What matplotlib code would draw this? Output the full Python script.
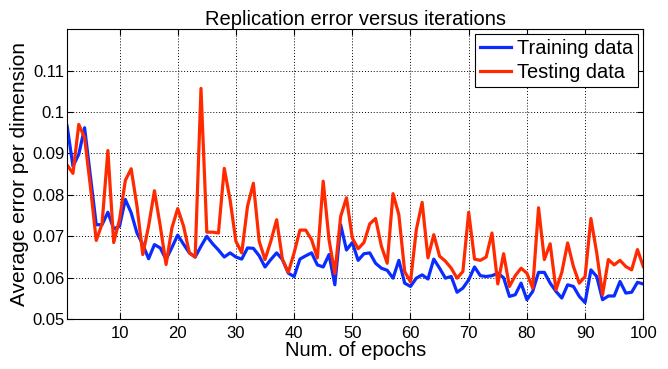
import matplotlib.pyplot as plt

plt.rcParams['font.family'] = ['Liberation Sans', 'DejaVu Sans']

# epochs 1..100
epochs = list(range(1, 101))

# average error per dimension, training set
train_err = [
    0.0966, 0.0869, 0.0898, 0.0962, 0.0845, 0.0728, 0.0728, 0.0758, 0.0718, 0.0724,
    0.0789, 0.0757, 0.0708, 0.0680, 0.0646, 0.0680, 0.0672, 0.0644, 0.0673, 0.0703,
    0.0681, 0.0660, 0.0650, 0.0676, 0.0700, 0.0682, 0.0667, 0.0650, 0.0660, 0.0650,
    0.0645, 0.0672, 0.0671, 0.0653, 0.0626, 0.0644, 0.0660, 0.0644, 0.0611, 0.0603,
    0.0645, 0.0653, 0.0660, 0.0631, 0.0626, 0.0656, 0.0583, 0.0728, 0.0667, 0.0685,
    0.0642, 0.0658, 0.0660, 0.0635, 0.0623, 0.0618, 0.0599, 0.0642, 0.0587, 0.0579,
    0.0599, 0.0607, 0.0597, 0.0645, 0.0623, 0.0599, 0.0603, 0.0565, 0.0575, 0.0595,
    0.0626, 0.0605, 0.0603, 0.0605, 0.0611, 0.0600, 0.0555, 0.0559, 0.0587, 0.0547,
    0.0567, 0.0613, 0.0613, 0.0587, 0.0567, 0.0551, 0.0583, 0.0579, 0.0555, 0.0540,
    0.0619, 0.0603, 0.0547, 0.0556, 0.0556, 0.0591, 0.0563, 0.0565, 0.0589, 0.0585,
]

# average error per dimension, testing set
test_err = [
    0.0872, 0.0852, 0.0970, 0.0938, 0.0820, 0.0690, 0.0730, 0.0907, 0.0685, 0.0740,
    0.0835, 0.0863, 0.0773, 0.0656, 0.0725, 0.0810, 0.0725, 0.0632, 0.0720, 0.0767,
    0.0725, 0.0660, 0.0650, 0.1057, 0.0710, 0.0710, 0.0708, 0.0864, 0.0788, 0.0688,
    0.0660, 0.0773, 0.0828, 0.0688, 0.0644, 0.0688, 0.0740, 0.0644, 0.0613, 0.0660,
    0.0715, 0.0715, 0.0692, 0.0648, 0.0833, 0.0692, 0.0610, 0.0748, 0.0793, 0.0696,
    0.0670, 0.0685, 0.0730, 0.0743, 0.0676, 0.0635, 0.0803, 0.0752, 0.0615, 0.0590,
    0.0716, 0.0782, 0.0648, 0.0704, 0.0652, 0.0640, 0.0623, 0.0599, 0.0615, 0.0758,
    0.0645, 0.0642, 0.0650, 0.0708, 0.0585, 0.0658, 0.0579, 0.0605, 0.0623, 0.0611,
    0.0575, 0.0769, 0.0644, 0.0682, 0.0571, 0.0613, 0.0684, 0.0627, 0.0587, 0.0603,
    0.0743, 0.0660, 0.0559, 0.0644, 0.0631, 0.0642, 0.0627, 0.0619, 0.0668, 0.0627,
]

x_ticks = [10, 20, 30, 40, 50, 60, 70, 80, 90, 100]
y_ticks = [0.05, 0.06, 0.07, 0.08, 0.09, 0.10, 0.11]
y_labels = ["0.05", "0.06", "0.07", "0.08", "0.09", "0.1", "0.11"]

fig = plt.figure(figsize=(6.68, 3.69), dpi=100)
ax = fig.add_axes([0.1005, 0.135, 0.8625, 0.786])

ax.plot(epochs, train_err, color="#0a2cff", lw=2.3, label="Training data")
ax.plot(epochs, test_err, color="#ff2a00", lw=2.3, label="Testing data")

ax.set_xlim(1, 100)
ax.set_ylim(0.05, 0.12)
ax.set_xticks(x_ticks)
ax.set_yticks(y_ticks)
ax.set_yticklabels(y_labels)
ax.tick_params(direction="in", labelsize=12, length=4, top=True, right=True)
ax.tick_params(axis="x", pad=5)
ax.tick_params(axis="y", pad=2)
ax.grid(True, color="black", linestyle=(0, (1, 2)), linewidth=0.7)

ax.set_title("Replication error versus iterations", fontsize=14.5, pad=3)
ax.set_xlabel("Num. of epochs", fontsize=14.5, labelpad=0)
ax.set_ylabel("Average error per dimension", fontsize=15, labelpad=2)

leg = ax.legend(loc="upper right", fontsize=14.4, fancybox=False, framealpha=1,
                edgecolor="black", borderaxespad=0.25, handlelength=1.55,
                borderpad=0.25, labelspacing=0.25, handletextpad=0.3)
leg.get_frame().set_linewidth(0.8)

fig.savefig("out.png", dpi=100)
